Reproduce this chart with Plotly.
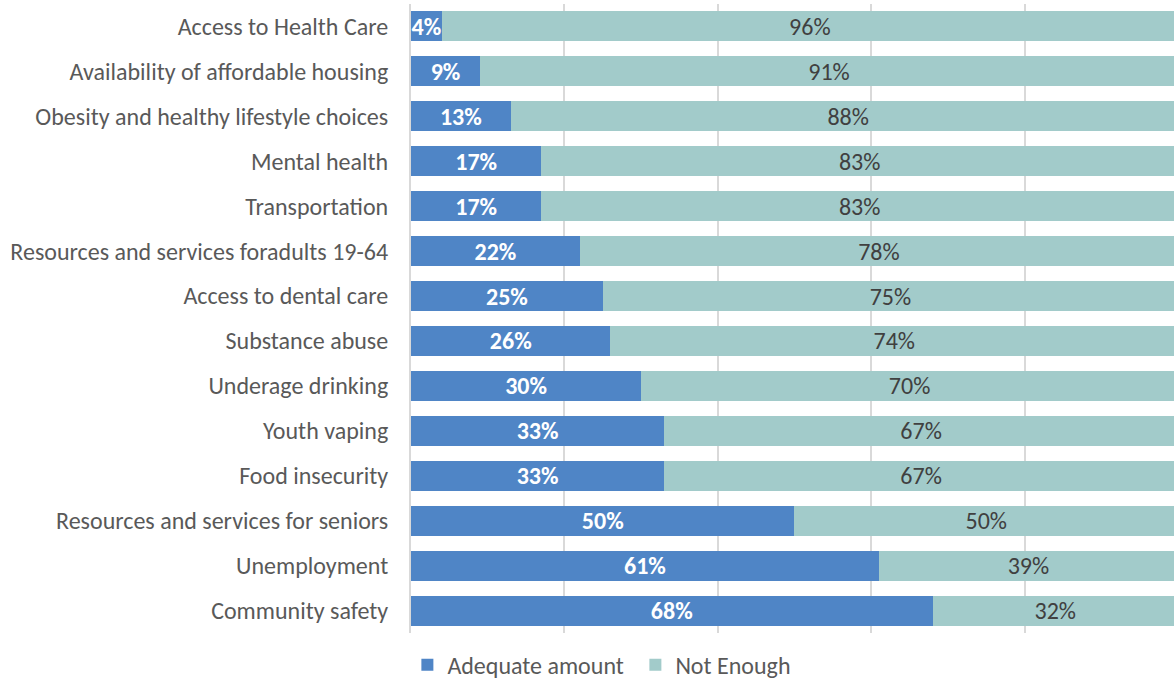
import plotly.graph_objects as go

categories = [
    "Access to Health Care",
    "Availability of affordable housing",
    "Obesity and healthy lifestyle choices",
    "Mental health",
    "Transportation",
    "Resources and services foradults 19-64",
    "Access to dental care",
    "Substance abuse",
    "Underage drinking",
    "Youth vaping",
    "Food insecurity",
    "Resources and services for seniors",
    "Unemployment",
    "Community safety",
]
adequate = [4, 9, 13, 17, 17, 22, 25, 26, 30, 33, 33, 50, 61, 68]
not_enough = [96, 91, 88, 83, 83, 78, 75, 74, 70, 67, 67, 50, 39, 32]

FONT = "Calibri, Carlito, 'Open Sans', sans-serif"
BLUE = "#4F85C6"
TEAL = "#A2CBCA"
GREY = "#595959"
DARK = "#404040"
GRID = "#D9D9D9"
SIZE = 24

fig = go.Figure()
fig.add_trace(go.Bar(
    name="Adequate amount", y=categories, x=adequate, orientation="h",
    marker=dict(color=BLUE, line=dict(width=0)),
    text=[f"<b>{v}%</b>" for v in adequate], textposition="inside",
    insidetextanchor="middle", constraintext="none",
    textfont=dict(family=FONT, size=SIZE, color="white"),
    hoverinfo="skip",
))
fig.add_trace(go.Bar(
    name="Not Enough", y=categories, x=not_enough, orientation="h",
    marker=dict(color=TEAL, line=dict(width=0)),
    text=[f"{v}%" for v in not_enough], textposition="inside",
    insidetextanchor="middle", constraintext="none",
    textfont=dict(family=FONT, size=SIZE, color=DARK),
    hoverinfo="skip",
))

fig.update_layout(
    barmode="stack",
    bargap=1 / 3,
    width=1174, height=683,
    margin=dict(l=411, r=0, t=4, b=50),
    paper_bgcolor="white", plot_bgcolor="white",
    font=dict(family=FONT, size=SIZE, color=GREY),
    legend=dict(
        orientation="h", xref="container", yref="container",
        x=0.347, xanchor="left", y=0.026, yanchor="middle",
        font=dict(family=FONT, size=SIZE, color=GREY),
        itemwidth=30, entrywidth=183, entrywidthmode="pixels",
        traceorder="normal",
    ),
    showlegend=True,
)
fig.update_xaxes(
    range=[0, 99.48], tickvals=[0, 20, 40, 60, 80, 100], showticklabels=False,
    showgrid=True, gridcolor=GRID, gridwidth=2, zeroline=False,
    showline=False, fixedrange=True,
)
fig.update_yaxes(
    categoryorder="array", categoryarray=categories, autorange="reversed",
    showgrid=False, zeroline=False, showline=True, linecolor=GRID, linewidth=2,
    ticks="", ticklabelstandoff=16, automargin=False,
    tickfont=dict(family=FONT, size=SIZE, color=GREY),
)

fig.write_html("out.html")
